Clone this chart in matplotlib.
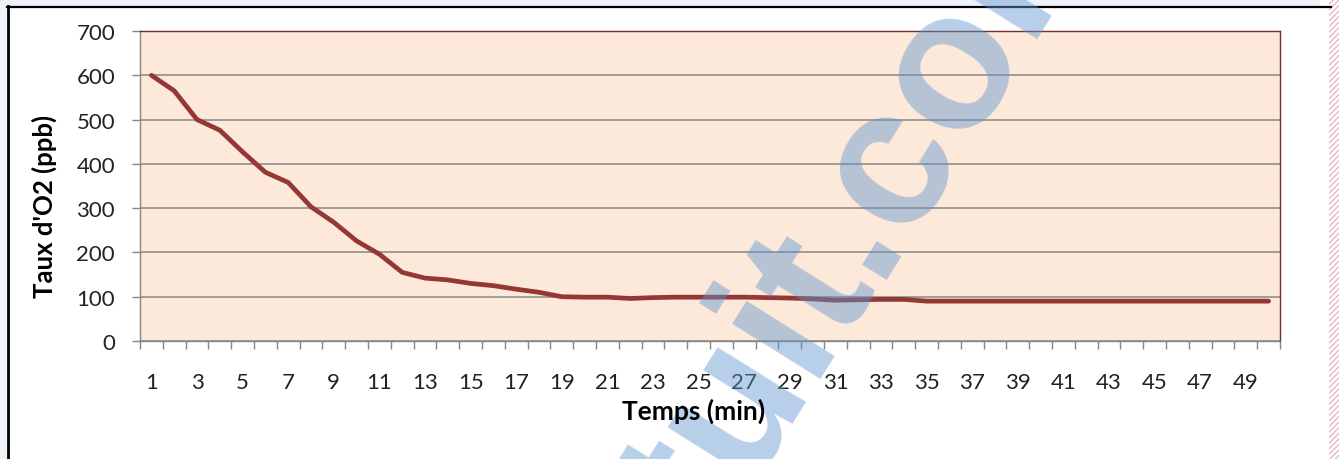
import matplotlib
matplotlib.use("Agg")
import matplotlib.pyplot as plt
from matplotlib.patches import Rectangle
from matplotlib.ticker import FixedLocator, NullFormatter

# Dissolved oxygen level over time
minutes = list(range(1, 51))
o2_ppb = [600, 565, 500, 476, 427, 381, 358, 303, 268, 226,
          196, 155, 142, 138, 130, 125, 117, 110, 100, 99,
          99, 96, 98, 99, 99, 99, 99, 98, 97, 95,
          92, 93, 94, 94, 90, 90, 90, 90, 90, 90,
          90, 90, 90, 90, 90, 90, 90, 90, 90, 90]
y_ticks = [0, 100, 200, 300, 400, 500, 600, 700]
x_labels = [str(m) for m in minutes[::2]]

W, H = 1339, 460
fig = plt.figure(figsize=(W / 100, H / 100), dpi=100)
fig.patch.set_facecolor("white")

FONT = ["Lato", "DejaVu Sans"]

# outer chart frame
fig.patches.append(Rectangle((0, 1 - 7 / H), 1320 / W, 7 / H, transform=fig.transFigure,
                             facecolor="#eef3fa", edgecolor="none", zorder=0))
fig.patches.append(Rectangle((0, 0), 7 / W, 1, transform=fig.transFigure,
                             facecolor="#eef3fa", edgecolor="none", zorder=0))
fig.lines.append(plt.Line2D([7 / W, 1331 / W], [1 - 7.5 / H, 1 - 7.5 / H],
                            transform=fig.transFigure, color="black", lw=1.6))
fig.lines.append(plt.Line2D([7.5 / W, 7.5 / W], [0, 1 - 7 / H],
                            transform=fig.transFigure, color="black", lw=2.0))
# hatched page edge on the right
fig.patches.append(Rectangle((1329 / W, 0), 10 / W, 1, transform=fig.transFigure,
                             facecolor="white", edgecolor="#e2b9c0", hatch="//////",
                             lw=0, zorder=1))

ax = fig.add_axes([140 / W, 1 - 342 / H, 1140 / W, 310 / H])
ax.set_facecolor("#fde9d9")

ax.plot(minutes, o2_ppb, color="#953735", lw=3.4, solid_capstyle="round",
        solid_joinstyle="round", zorder=3)

ax.set_xlim(0.5, 50.5)
ax.set_ylim(0, 700)

ax.set_yticks(y_ticks)
ax.yaxis.grid(True, color="#868686", lw=1.1)
ax.set_axisbelow(True)
ax.tick_params(axis="y", direction="out", length=6, width=1, color="#868686",
               pad=12, labelsize=16, labelcolor="#222222")

ax.xaxis.set_major_locator(FixedLocator(minutes[::2]))
ax.set_xticklabels(x_labels)
ax.xaxis.set_minor_locator(FixedLocator([m + 0.5 for m in range(0, 51)]))
ax.xaxis.set_minor_formatter(NullFormatter())
ax.tick_params(axis="x", which="major", length=0, pad=22, labelsize=16,
               labelcolor="#222222")
ax.tick_params(axis="x", which="minor", direction="out", length=6, width=1,
               color="#868686")

for lab in ax.get_xticklabels() + ax.get_yticklabels():
    lab.set_family(FONT)

ax.spines["left"].set_color("#868686")
ax.spines["bottom"].set_color("#868686")
ax.spines["top"].set_color("#7a2a2a")
ax.spines["right"].set_color("#7a2a2a")
for s in ax.spines.values():
    s.set_linewidth(1.0)

fig.text(694 / W, 1 - 411 / H, "Temps (min)", ha="center", va="center",
         fontsize=19, fontweight="bold", family=FONT, zorder=6)
fig.text(44 / W, 1 - 206 / H, "Taux d'O2 (ppb)", ha="center", va="center",
         rotation=90, fontsize=18.5, fontweight="bold", family=FONT, zorder=6)

# site watermark
wm = dict(fontsize=142, fontweight="bold", family=["Liberation Sans", "DejaVu Sans"],
          color="#5f94ce", alpha=0.45, rotation=58, rotation_mode="anchor",
          va="baseline", transform=fig.transFigure, zorder=5)
anchor = (874 / W, 1 - 280 / H)
fig.text(*anchor, ".com", ha="left", **wm)
fig.text(*anchor, "gratuit", ha="right", **wm)

fig.savefig("out.png", dpi=100)
